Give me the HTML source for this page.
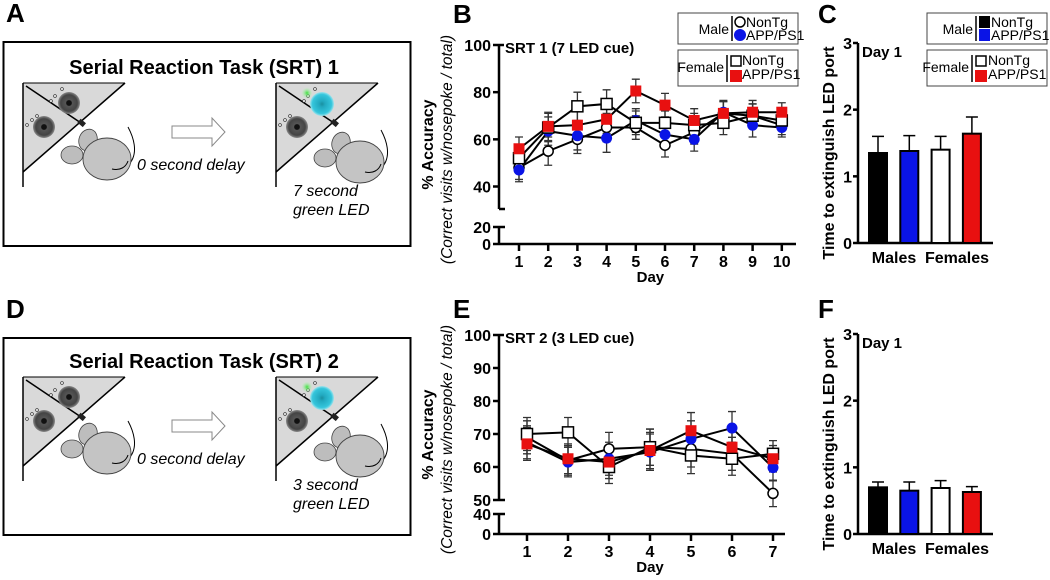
<!DOCTYPE html>
<html><head><meta charset="utf-8"><style>
body{margin:0;background:#fff;}
svg{display:block;font-family:"Liberation Sans",Arial,sans-serif;}
</style></head><body>
<svg id="fig" width="1050" height="580" viewBox="0 0 1050 580">
<defs>
<radialGradient id="port" cx="50%" cy="50%" r="50%"><stop offset="0" stop-color="#111"/><stop offset="0.22" stop-color="#111"/><stop offset="0.3" stop-color="#555"/><stop offset="0.75" stop-color="#444"/><stop offset="1" stop-color="#8a8a8a"/></radialGradient>
<radialGradient id="portlit" cx="50%" cy="50%" r="50%"><stop offset="0" stop-color="#1a8fa0"/><stop offset="0.25" stop-color="#22a9c0"/><stop offset="0.8" stop-color="#35c6dc"/><stop offset="1" stop-color="#9fe3ec"/></radialGradient>
<radialGradient id="led" cx="50%" cy="50%" r="50%"><stop offset="0" stop-color="#3de13d"/><stop offset="1" stop-color="#c8f5c8" stop-opacity="0"/></radialGradient>
<g id="chamberBase">
<polygon points="0,0 102,0 0,89" fill="#d9d9d9"/>
<line x1="0" y1="0" x2="102" y2="0" stroke="#000" stroke-width="1"/>
<line x1="102" y1="0" x2="0" y2="89" stroke="#000" stroke-width="1.5"/>
<line x1="0" y1="0" x2="0" y2="104" stroke="#000" stroke-width="1.5"/>
<line x1="3" y1="3" x2="58" y2="40" stroke="#000" stroke-width="1.5"/>
<rect x="55" y="37" width="7" height="5" fill="#222" transform="rotate(40 58 40)"/>
<circle cx="4" cy="42" r="1.4" fill="#fff" stroke="#333" stroke-width="0.7"/>
<circle cx="9" cy="37" r="1.4" fill="#fff" stroke="#333" stroke-width="0.7"/>
<circle cx="14" cy="33" r="1.4" fill="#fff" stroke="#333" stroke-width="0.7"/>
<circle cx="28" cy="18" r="1.4" fill="#fff" stroke="#333" stroke-width="0.7"/>
<circle cx="32" cy="13" r="1.4" fill="#fff" stroke="#333" stroke-width="0.7"/>
<circle cx="39" cy="6" r="1.4" fill="#fff" stroke="#333" stroke-width="0.7"/>
<circle cx="21" cy="44" r="11" fill="url(#port)"/>
</g>
<g id="chamber">
<use href="#chamberBase"/>
<circle cx="46" cy="20" r="11" fill="url(#port)"/>
</g>
<g id="chamberLit">
<use href="#chamberBase"/>
<circle cx="31" cy="10" r="6" fill="url(#led)"/>
<circle cx="46" cy="21" r="12" fill="url(#portlit)"/>
</g>
<g id="mouse">
<path d="M22,36 C42,38 52,20 38,-6" fill="none" stroke="#000" stroke-width="1"/>
<ellipse cx="-2" cy="7" rx="9" ry="11" fill="#bdbdbd" stroke="#444" stroke-width="0.8" transform="rotate(20 -2 7)"/>
<ellipse cx="-18" cy="22" rx="11" ry="9" fill="#bdbdbd" stroke="#444" stroke-width="0.8"/>
<ellipse cx="17" cy="26" rx="24" ry="21" fill="#c4c4c4" stroke="#444" stroke-width="0.9"/>
<path d="M22,36 C30,38 36,34 38,28" fill="none" stroke="#000" stroke-width="1"/>
</g>
</defs>

<text x="6" y="22" font-size="26" font-weight="bold">A</text>
<text x="453" y="23" font-size="26" font-weight="bold">B</text>
<text x="818" y="23" font-size="26" font-weight="bold">C</text>
<text x="6" y="318" font-size="26" font-weight="bold">D</text>
<text x="453" y="318" font-size="26" font-weight="bold">E</text>
<text x="818" y="318" font-size="26" font-weight="bold">F</text>

<g>
<rect x="3.5" y="42" width="407" height="204" fill="none" stroke="#000" stroke-width="2"/>
<text x="204" y="74" font-size="20" font-weight="bold" text-anchor="middle">Serial Reaction Task (SRT) 1</text>
<use href="#chamber" x="23" y="83"/>
<use href="#mouse" x="90" y="133"/>
<polygon points="172,126 212,126 212,118 225,132 212,146 212,138 172,138" fill="#fff" stroke="#888" stroke-width="1"/>
<text x="137" y="170" font-size="16" font-style="italic">0 second delay</text>
<use href="#chamberLit" x="276" y="83"/>
<use href="#mouse" x="343" y="136"/>
<text x="293" y="196" font-size="16" font-style="italic">7 second</text>
<text x="293" y="215" font-size="16" font-style="italic">green LED</text>
</g>

<g>
<rect x="3.5" y="338" width="407" height="197" fill="none" stroke="#000" stroke-width="2"/>
<text x="204" y="368" font-size="20" font-weight="bold" text-anchor="middle">Serial Reaction Task (SRT) 2</text>
<use href="#chamber" x="23" y="377"/>
<use href="#mouse" x="90" y="427"/>
<polygon points="172,420 212,420 212,412 225,426 212,440 212,432 172,432" fill="#fff" stroke="#888" stroke-width="1"/>
<text x="137" y="464" font-size="16" font-style="italic">0 second delay</text>
<use href="#chamberLit" x="276" y="377"/>
<use href="#mouse" x="343" y="430"/>
<text x="293" y="490" font-size="16" font-style="italic">3 second</text>
<text x="293" y="509" font-size="16" font-style="italic">green LED</text>
</g>

<g id="panelB"></g>
<g id="panelE"></g>
<g id="panelC"></g>
<g id="panelF"></g>

<g>
<rect x="678" y="13" width="120" height="31" fill="#fff" stroke="#444" stroke-width="1"/>
<rect x="678" y="50" width="120" height="36" fill="#fff" stroke="#444" stroke-width="1"/>
<text x="729" y="34" font-size="14" text-anchor="end">Male</text>
<line x1="732" y1="16" x2="732" y2="41" stroke="#000" stroke-width="1.5"/>
<circle cx="740" cy="22" r="5" fill="#fff" stroke="#000" stroke-width="1.5"/>
<circle cx="740" cy="35" r="6" fill="#0a14e6"/>
<text x="746" y="27" font-size="14">NonTg</text>
<text x="746" y="40" font-size="14">APP/PS1</text>
<text x="724" y="72" font-size="14" text-anchor="end">Female</text>
<line x1="727" y1="55" x2="727" y2="82" stroke="#000" stroke-width="1.5"/>
<rect x="731" y="56" width="10" height="10" fill="#fff" stroke="#000" stroke-width="1.5"/>
<rect x="730" y="70" width="12" height="12" fill="#e81010"/>
<text x="742" y="65" font-size="14">NonTg</text>
<text x="742" y="79" font-size="14">APP/PS1</text>
</g>
<g>
<rect x="927" y="13" width="120" height="31" fill="#fff" stroke="#444" stroke-width="1"/>
<rect x="927" y="50" width="120" height="36" fill="#fff" stroke="#444" stroke-width="1"/>
<text x="973" y="34" font-size="14" text-anchor="end">Male</text>
<line x1="976" y1="16" x2="976" y2="41" stroke="#000" stroke-width="1.5"/>
<rect x="979" y="16" width="11" height="12" fill="#000"/>
<rect x="979" y="29" width="11" height="12" fill="#0a14e6"/>
<text x="991" y="27" font-size="14">NonTg</text>
<text x="991" y="40" font-size="14">APP/PS1</text>
<text x="969" y="72" font-size="14" text-anchor="end">Female</text>
<line x1="972" y1="55" x2="972" y2="82" stroke="#000" stroke-width="1.5"/>
<rect x="976" y="56" width="10" height="10" fill="#fff" stroke="#000" stroke-width="1.5"/>
<rect x="975" y="70" width="12" height="12" fill="#e81010"/>
<text x="988" y="65" font-size="14">NonTg</text>
<text x="988" y="79" font-size="14">APP/PS1</text>
</g>
</svg>
<script>
// ---- Panel B data (SRT 1) ----
const daysB = [1,2,3,4,5,6,7,8,9,10];
const maleNonTgB = [48,55,60,65,65,57.5,63,71,70,66];
const maleAppB = [47,63.5,61.5,60.5,68,62,60,71.5,66,65];
const femaleNonTgB = [52,65,74,75,67,67,66,67,70,68];
const femaleAppB = [56,65.5,66,68.5,80.5,74.5,68,71,71.5,71.5];
const errB = [5,6,6,6,5,5,5,5,5,4];
const yTicksB = [40,60,80,100];
const yTicksLowB = [0,20];
// ---- Panel E data (SRT 2) ----
const daysE = [1,2,3,4,5,6,7];
const maleNonTgE = [69,62,65.5,66,65.5,64,52];
const maleAppE = [67.5,61.5,62.5,64.5,68.5,71.8,59.8];
const femaleNonTgE = [70,70.5,60,66,63.5,62.5,64];
const femaleAppE = [67,62.5,61.5,65,71,66,62.5];
const errE = [5,4.5,5,5.5,5.5,5,4];
const yTicksE = [50,60,70,80,90,100];
const yTicksLowE = [0,40];
// ---- Panels C/F data ----
const groups = ['Male NonTg','Male APP/PS1','Female NonTg','Female APP/PS1'];
const latencyC = [1.35,1.38,1.4,1.64];
const latencyErrC = [0.25,0.23,0.2,0.25];
const latencyF = [0.7,0.65,0.69,0.63];
const latencyErrF = [0.08,0.13,0.11,0.08];
const yTicksBar = [0,1,2,3];

const NS='http://www.w3.org/2000/svg';
function mk(parent,tag,attrs,text){const e=document.createElementNS(NS,tag);for(const k in attrs)e.setAttribute(k,attrs[k]);if(text!==undefined)e.textContent=text;parent.appendChild(e);return e;}

function lineChart(g,cfg){
  const ax=cfg.axisX, x=d=>cfg.x0+(d-1)*cfg.dx;
  const y=v=>cfg.yTop+(cfg.yMax-v)*(cfg.yBreakPx-cfg.yTop)/(cfg.yMax-cfg.yBreakV);
  const yl=v=>cfg.yZero-(v/cfg.lowMax)*(cfg.yZero-cfg.yLowTop);
  mk(g,'line',{x1:ax,y1:cfg.yTop,x2:ax,y2:cfg.axEnd,stroke:'#000','stroke-width':2.5});
  mk(g,'line',{x1:ax,y1:cfg.yTop,x2:ax+5,y2:cfg.yTop,stroke:'#000','stroke-width':2.5});
  mk(g,'line',{x1:ax,y1:cfg.axEnd,x2:ax+6,y2:cfg.axEnd,stroke:'#000','stroke-width':2.5});
  mk(g,'line',{x1:ax,y1:cfg.yLowTop,x2:ax,y2:cfg.yZero,stroke:'#000','stroke-width':2.5});
  mk(g,'line',{x1:ax,y1:cfg.yLowTop,x2:ax+6,y2:cfg.yLowTop,stroke:'#000','stroke-width':2.5});
  mk(g,'line',{x1:ax-6,y1:cfg.yZero,x2:cfg.xEnd,y2:cfg.yZero,stroke:'#000','stroke-width':2.5});
  cfg.ticks.forEach(t=>{
    const tk=mk(g,'line',{x1:ax-6,y1:y(t),x2:ax,y2:y(t),stroke:'#000','stroke-width':2.5});
    
    
    const lb=mk(g,'text',{x:ax-8,y:y(t)+6,'font-size':16,'font-weight':'bold','text-anchor':'end'},t);
    
    
  });
  cfg.lowTicks.forEach(t=>{
    if(t>0) mk(g,'line',{x1:ax-6,y1:yl(t),x2:ax,y2:yl(t),stroke:'#000','stroke-width':2.5});
    const lb=mk(g,'text',{x:ax-8,y:yl(t)+6,'font-size':16,'font-weight':'bold','text-anchor':'end'},t);
    
    
  });
  cfg.days.forEach(d=>{
    mk(g,'line',{x1:x(d),y1:cfg.yZero,x2:x(d),y2:cfg.yZero+7,stroke:'#000','stroke-width':2.5});
    const lb=mk(g,'text',{x:x(d),y:cfg.yZero+23,'font-size':16,'font-weight':'bold','text-anchor':'middle'},d);
    
    
  });
  const xt=mk(g,'text',{x:(cfg.x0+x(cfg.days[cfg.days.length-1]))/2,y:cfg.yZero+38,'font-size':15,'font-weight':'bold','text-anchor':'middle'},'Day');
  
  
  const cy=(cfg.yTop+cfg.yZero)/2;
  const t1=mk(g,'text',{x:0,y:0,'font-size':16,'font-weight':'bold','text-anchor':'middle',transform:`translate(433,${cy}) rotate(-90)`},'% Accuracy');
  
  
  const t2=mk(g,'text',{x:0,y:0,'font-size':15.5,'font-style':'italic','text-anchor':'middle',transform:`translate(452,${cy+5}) rotate(-90)`},'(Correct visits w/nosepoke / total)');
  
  
  const tt=mk(g,'text',{x:ax+6,y:cfg.yTop+8,'font-size':15,'font-weight':'bold'},cfg.title);
  
  
  const series=[
    {v:cfg.s[0],name:'male-nontg',shape:'circle',fill:'#fff',stroke:'#000'},
    {v:cfg.s[1],name:'male-app',shape:'circle',fill:'#0a14e6',stroke:'none'},
    {v:cfg.s[2],name:'female-nontg',shape:'square',fill:'#fff',stroke:'#000'},
    {v:cfg.s[3],name:'female-app',shape:'square',fill:'#e81010',stroke:'none'}];
  series.forEach(s=>{
    const sg=mk(g,'g',{});
    
    
    cfg.days.forEach((d,i)=>{
      const e=cfg.err[i], px=x(d);
      mk(sg,'path',{d:`M${px},${y(s.v[i]-e)}V${y(s.v[i]+e)}M${px-4},${y(s.v[i]-e)}H${px+4}M${px-4},${y(s.v[i]+e)}H${px+4}`,stroke:'#333','stroke-width':1.3,fill:'none'});
    });
    const pts=cfg.days.map((d,i)=>x(d)+','+y(s.v[i])).join(' ');
    const pl=mk(sg,'polyline',{points:pts,fill:'none',stroke:'#000','stroke-width':2});
    
    
  });
  series.forEach(s=>{
    cfg.days.forEach((d,i)=>{
      let m;
      if(s.shape==='circle') m=mk(g,'circle',{cx:x(d),cy:y(s.v[i]),r:s.stroke==='none'?5.5:5,fill:s.fill,stroke:s.stroke,'stroke-width':1.5});
      else m=mk(g,'rect',{x:x(d)-5.5,y:y(s.v[i])-5.5,width:11,height:11,fill:s.fill,stroke:s.stroke,'stroke-width':1.5});
      
      
    });
  });
}

lineChart(document.getElementById('panelB'),{axisX:499,x0:519,dx:29.2,xEnd:796,yTop:45,yMax:100,yBreakV:40,yBreakPx:186.5,axEnd:209,yZero:244,yLowTop:227,lowMax:20,
  ticks:yTicksB,lowTicks:yTicksLowB,days:daysB,err:errB,title:'SRT 1 (7 LED cue)',s:[maleNonTgB,maleAppB,femaleNonTgB,femaleAppB]});
lineChart(document.getElementById('panelE'),{axisX:499,x0:527,dx:41,xEnd:785,yTop:335,yMax:100,yBreakV:50,yBreakPx:500,axEnd:500,yZero:534,yLowTop:514,lowMax:40,
  ticks:yTicksE,lowTicks:yTicksLowE,days:daysE,err:errE,title:'SRT 2 (3 LED cue)',s:[maleNonTgE,maleAppE,femaleNonTgE,femaleAppE]});

function barChart(g,cfg){
  const ax=858, y=v=>cfg.yZero-v*(cfg.yZero-cfg.yTop)/3;
  mk(g,'line',{x1:ax,y1:cfg.yTop,x2:ax,y2:cfg.yZero,stroke:'#000','stroke-width':2.5});
  mk(g,'line',{x1:ax,y1:cfg.yZero,x2:993,y2:cfg.yZero,stroke:'#000','stroke-width':2.5});
  yTicksBar.forEach(t=>{
    mk(g,'line',{x1:ax-5,y1:y(t),x2:ax,y2:y(t),stroke:'#000','stroke-width':2.5});
    const lb=mk(g,'text',{x:ax-6,y:y(t)+6,'font-size':16,'font-weight':'bold','text-anchor':'end'},t);
    
    
  });
  const fills=['#000','#0a14e6','#fff','#e81010'];
  cfg.vals.forEach((v,i)=>{
    const cx=878+i*31.3;
    mk(g,'path',{d:`M${cx},${y(v)}V${y(v+cfg.err[i])}M${cx-6},${y(v+cfg.err[i])}H${cx+6}`,stroke:'#000','stroke-width':1.5});
    const b=mk(g,'rect',{x:cx-9,y:y(v),width:18,height:cfg.yZero-y(v),fill:fills[i],stroke:'#000','stroke-width':2});
    
    
  });
  const m=mk(g,'text',{x:894,y:cfg.yZero+20,'font-size':16,'font-weight':'bold','text-anchor':'middle'},'Males');
  
  
  const f=mk(g,'text',{x:957,y:cfg.yZero+20,'font-size':16,'font-weight':'bold','text-anchor':'middle'},'Females');
  
  
  const t=mk(g,'text',{x:0,y:0,'font-size':16,'font-weight':'bold','text-anchor':'middle',transform:`translate(834,${(cfg.yTop+cfg.yZero)/2+10}) rotate(-90)`},'Time to extinguish LED  port');
  
  
  const d=mk(g,'text',{x:862,y:cfg.yTop+14,'font-size':15,'font-weight':'bold'},'Day 1');
  
  
}
barChart(document.getElementById('panelC'),{yTop:43,yZero:243,vals:latencyC,err:latencyErrC});
barChart(document.getElementById('panelF'),{yTop:334,yZero:534,vals:latencyF,err:latencyErrF});
</script>
</body></html>
